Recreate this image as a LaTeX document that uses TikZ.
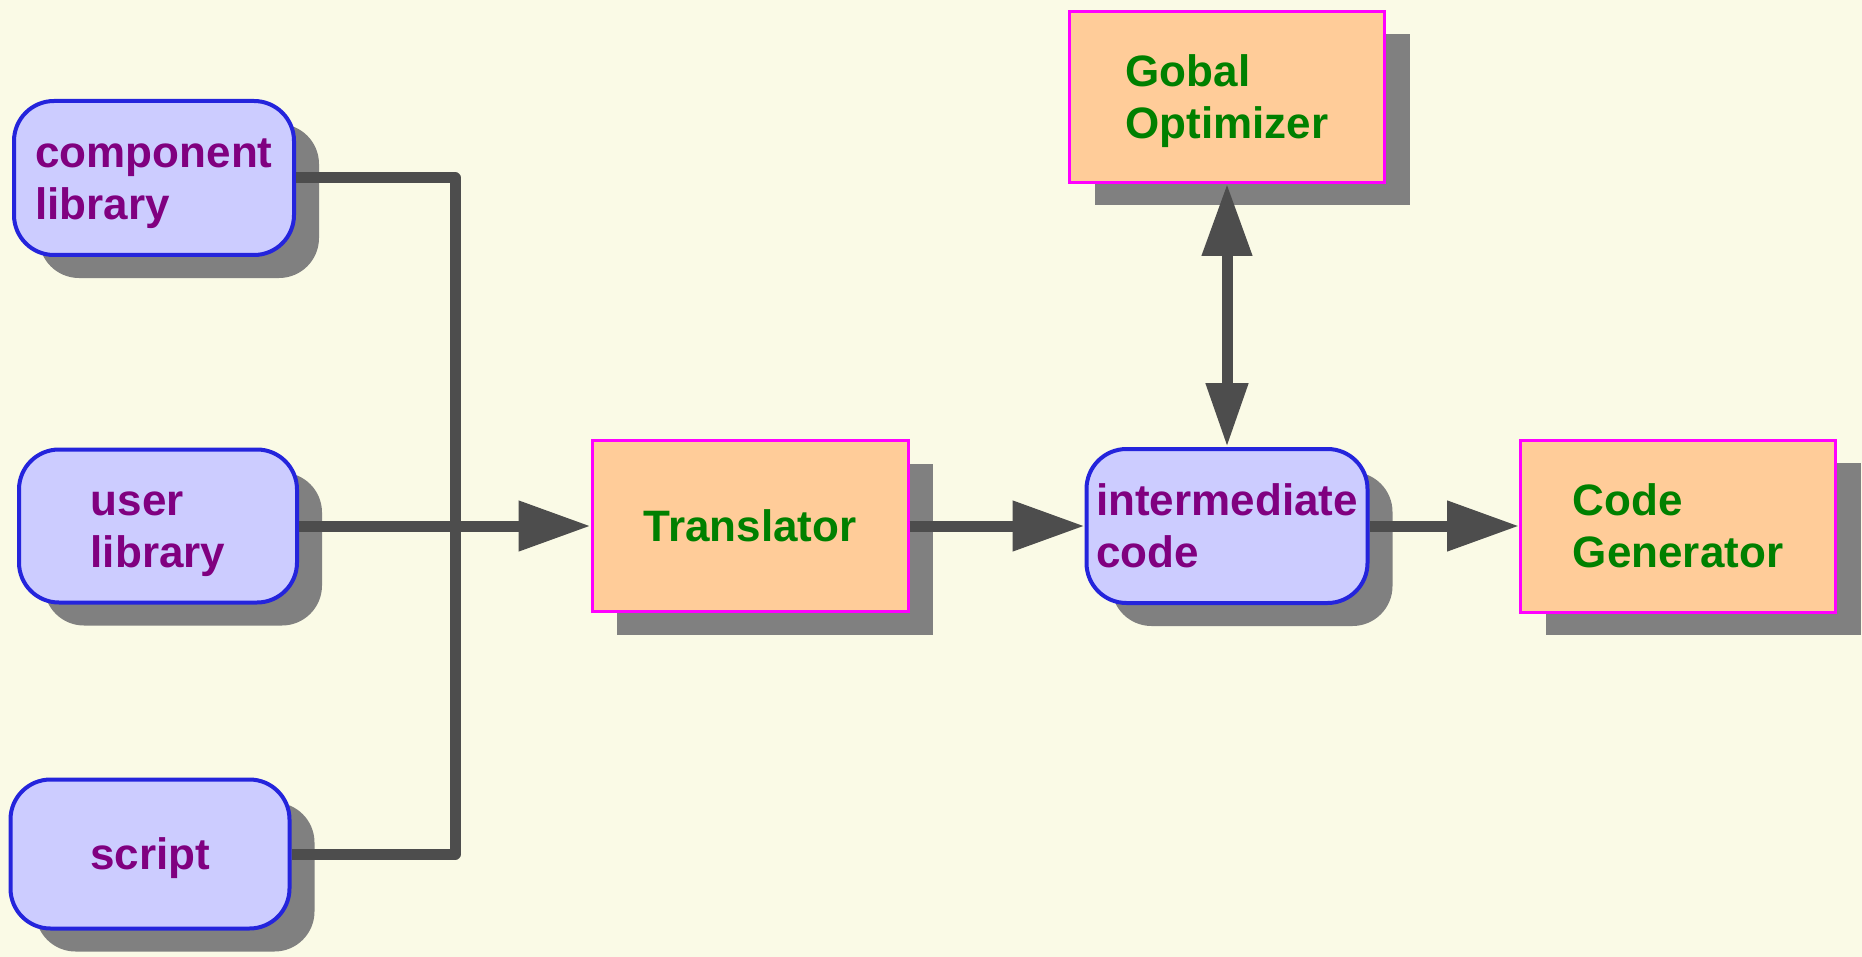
\documentclass[tikz,border=0pt]{standalone}
\usepackage{fontspec}
\setmainfont{Liberation Sans}
\usetikzlibrary{arrows.meta,shadows}

\definecolor{bg}{HTML}{FAFAE6}
\definecolor{libfill}{HTML}{CCCCFF}
\definecolor{libline}{HTML}{2424DC}
\definecolor{libtext}{HTML}{800080}
\definecolor{procfill}{HTML}{FFCC99}
\definecolor{procline}{HTML}{FF00FF}
\definecolor{proctext}{HTML}{008000}
\definecolor{shade}{HTML}{808080}
\definecolor{wirecol}{HTML}{4D4D4D}

% line strut that sits the text a little low in its box
\newcommand\lstrut{\rule[-0.2\baselineskip]{0pt}{\baselineskip}}

\tikzset{
  boxfont/.style={font=\fontsize{22}{26}\selectfont\bfseries},
  castshadow/.style={drop shadow={shadow xshift=12.5pt, shadow yshift=-11.5pt,
      fill=shade, opacity=1}},
  databox/.style={boxfont, castshadow, rounded corners=20pt, draw=libline,
      line width=2pt, fill=libfill, text=libtext, align=left, inner sep=0pt},
  procbox/.style={boxfont, castshadow, draw=procline, line width=1.5pt,
      fill=procfill, text=proctext, align=left, inner sep=0pt},
  wire/.style={draw=wirecol, line width=5.5pt, line join=round},
  flow/.style={wire, -{Triangle[length=36pt, width=24pt]}},
  twoway/.style={wire, {Triangle[length=32pt, width=20pt]}-{Triangle[length=36pt, width=24pt]}},
}

\begin{document}
\begin{tikzpicture}[x=0.5pt, y=-0.5pt]
  \path[use as bounding box, fill=bg] (0,0) rectangle (1862,957);

  % input sources
  \node[databox, minimum width=140pt, minimum height=77pt] (cl) at (154,178)
    {\lstrut component\\\lstrut library};
  \node[databox, minimum width=139pt, minimum height=76.5pt] (ul) at (158,526)
    {\lstrut user\\\lstrut library};
  \node[databox, minimum width=139.5pt, minimum height=74.5pt] (sc) at (150,854)
    {\lstrut script};

  % processing stages
  \node[procbox, minimum width=158pt, minimum height=85.5pt] (tr) at (750,526)
    {\lstrut Translator};
  \node[databox, minimum width=140.5pt, minimum height=77pt] (im) at (1227,526)
    {\lstrut intermediate\\\lstrut code};
  \node[procbox, minimum width=157.5pt, minimum height=85.5pt] (go) at (1227,97)
    {\lstrut Gobal\\\lstrut Optimizer};
  \node[procbox, minimum width=157.5pt, minimum height=86pt] (cg) at (1678,526)
    {\lstrut Code\\\lstrut Generator};

  % bus collecting the library and script inputs
  \coordinate (bus) at (455,526);
  \draw[wire] (cl.east) -| (bus) |- (sc.east);

  % data flow
  \draw[flow] (ul.east) -- (tr.west);
  \draw[flow] (tr.east) -- (im.west);
  \draw[flow] (im.east) -- (cg.west);
  \draw[twoway] (im.north) -- (go.south);
\end{tikzpicture}
\end{document}
